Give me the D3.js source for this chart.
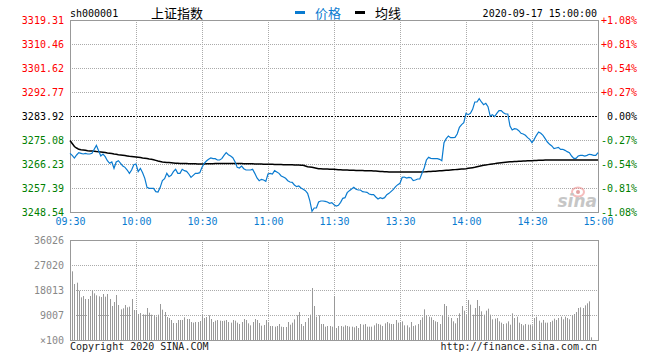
<!DOCTYPE html>
<html>
<head>
<meta charset="utf-8">
<script src="https://cdn.jsdelivr.net/npm/d3@7"></script>
<style>
  body { margin: 0; background: #fff; }
  svg { display: block; }
  text { font-family: "DejaVu Sans Mono", monospace; font-size: 10px; }
</style>
</head>
<body>
<script>
// values
var code = "sh000001";
var title = "上证指数";
var stamp = "2020-09-17 15:00:00";
var prevClose = 3283.92;
var priceTicks = [3319.31, 3310.46, 3301.62, 3292.77, 3283.92, 3275.08, 3266.23, 3257.39, 3248.54];
var pctTicks = ["+1.08%", "+0.81%", "+0.54%", "+0.27%", "0.00%", "-0.27%", "-0.54%", "-0.81%", "-1.08%"];
var timeTicks = [0, 30, 60, 90, 120, 150, 180, 210, 240];
var timeLabels = ["09:30", "10:00", "10:30", "11:00", "11:30", "13:30", "14:00", "14:30", "15:00"];
var volTicks = [36026, 27020, 18013, 9007];

var price = [
  3270.16, 3269.43, 3268.44, 3269.55, 3270.41, 3270.16, 3269.92, 3270.16, 3269.92, 3269.92,
  3270.16, 3271.64, 3273.11, 3271.15, 3269.18, 3269.92, 3268.94, 3267.46, 3266.48, 3266.97,
  3264.64, 3266.97, 3267.46, 3266.48, 3265.49, 3265.00, 3264.02, 3262.79, 3264.02, 3265.99,
  3266.23, 3263.41, 3264.64, 3263.04, 3260.95, 3257.63, 3257.26, 3257.26, 3257.26, 3256.03,
  3255.91, 3257.63, 3260.09, 3260.83, 3262.79, 3261.56, 3262.05, 3263.41, 3264.27, 3262.79,
  3262.79, 3264.27, 3263.77, 3263.53, 3262.55, 3261.32, 3262.05, 3262.79, 3262.79, 3263.04,
  3265.00, 3266.48, 3267.34, 3267.95, 3268.44, 3268.20, 3268.20, 3267.71, 3267.71, 3268.20,
  3269.43, 3270.41, 3269.67, 3269.18, 3268.57, 3267.09, 3265.00, 3264.76, 3265.49, 3264.51,
  3264.02, 3264.02, 3264.02, 3264.27, 3262.79, 3261.07, 3260.09, 3260.58, 3260.33, 3259.84,
  3262.55, 3262.79, 3262.55, 3263.77, 3263.28, 3262.79, 3261.81, 3261.44, 3260.95, 3260.09,
  3259.60, 3259.47, 3258.49, 3257.88, 3258.12, 3257.39, 3256.89, 3256.40, 3255.42, 3252.72,
  3248.79, 3250.01, 3250.01, 3252.23, 3252.59, 3252.59, 3252.47, 3252.23, 3251.73, 3251.98,
  3251.20, 3250.75, 3251.00, 3252.11, 3253.58, 3253.83, 3255.67, 3256.41, 3257.02, 3257.63,
  3256.90, 3256.65, 3256.65, 3256.04, 3255.91, 3255.79, 3255.18, 3254.93, 3254.93, 3254.07,
  3253.33, 3253.83, 3253.46, 3253.83, 3254.93, 3255.42, 3256.16, 3256.90, 3257.88, 3258.62,
  3259.11, 3261.32, 3261.44, 3261.07, 3261.32, 3261.19, 3260.09, 3260.34, 3260.71, 3260.71,
  3262.79, 3264.76, 3267.71, 3268.69, 3268.32, 3268.20, 3268.20, 3268.20, 3267.96, 3267.46,
  3274.10, 3275.57, 3276.56, 3275.94, 3275.94, 3276.06, 3277.29, 3279.75, 3280.73, 3281.47,
  3284.91, 3284.42, 3284.91, 3286.38, 3289.09, 3289.09, 3290.31, 3289.09, 3288.10, 3288.59,
  3287.37, 3283.92, 3284.42, 3283.68, 3284.91, 3285.89, 3285.89, 3285.15, 3284.66, 3284.66,
  3280.24, 3278.77, 3279.26, 3279.13, 3278.52, 3277.54, 3277.29, 3276.80, 3275.94, 3275.33,
  3274.10, 3275.33, 3276.80, 3278.03, 3277.54, 3276.80, 3275.57, 3274.34, 3273.48, 3272.87,
  3271.89, 3272.13, 3272.38, 3271.64, 3271.64, 3271.27, 3270.78, 3270.41, 3269.18, 3268.32,
  3268.32, 3269.18, 3269.43, 3269.43, 3269.18, 3269.43, 3269.80, 3269.67, 3269.43, 3269.43,
  3270.41
];

var avgPrice = [
  3274.89, 3273.79, 3272.68, 3272.13, 3271.65, 3271.47, 3271.39, 3271.28, 3271.13, 3271.06,
  3270.99, 3270.91, 3270.80, 3270.73, 3270.66, 3270.55, 3270.43, 3270.29, 3270.18, 3270.07,
  3269.92, 3269.81, 3269.66, 3269.55, 3269.44, 3269.33, 3269.22, 3269.11, 3269.03, 3268.92,
  3268.81, 3268.70, 3268.59, 3268.44, 3268.33, 3268.22, 3268.08, 3267.97, 3267.78, 3267.56,
  3267.34, 3267.15, 3266.97, 3266.90, 3266.82, 3266.75, 3266.68, 3266.60, 3266.53, 3266.49,
  3266.45, 3266.43, 3266.41, 3266.38, 3266.36, 3266.34, 3266.31, 3266.29, 3266.27, 3266.25,
  3266.23, 3266.25, 3266.28, 3266.31, 3266.34, 3266.36, 3266.38, 3266.40, 3266.41, 3266.42,
  3266.44, 3266.45, 3266.45, 3266.45, 3266.44, 3266.43, 3266.41, 3266.40, 3266.38, 3266.36,
  3266.34, 3266.32, 3266.30, 3266.28, 3266.26, 3266.24, 3266.22, 3266.20, 3266.18, 3266.16,
  3266.14, 3266.12, 3266.10, 3266.08, 3266.06, 3266.04, 3266.02, 3266.00, 3265.99, 3265.98,
  3265.97, 3265.93, 3265.90, 3265.86, 3265.82, 3265.78, 3265.75, 3265.50, 3265.24, 3265.13,
  3265.02, 3264.87, 3264.68, 3264.50, 3264.47, 3264.43, 3264.39, 3264.35, 3264.32, 3264.30,
  3264.28, 3264.21, 3264.13, 3264.08, 3264.02, 3264.00, 3263.98, 3263.95, 3263.93, 3263.91,
  3263.88, 3263.86, 3263.84, 3263.81, 3263.79, 3263.77, 3263.76, 3263.71, 3263.66, 3263.61,
  3263.56, 3263.51, 3263.46, 3263.41, 3263.36, 3263.32, 3263.28, 3263.28, 3263.28, 3263.28,
  3263.28, 3263.28, 3263.28, 3263.28, 3263.28, 3263.28, 3263.28, 3263.28, 3263.28, 3263.28,
  3263.28, 3263.33, 3263.39, 3263.44, 3263.49, 3263.54, 3263.60, 3263.65, 3263.71, 3263.77,
  3263.84, 3263.90, 3263.96, 3264.02, 3264.09, 3264.16, 3264.23, 3264.30, 3264.37, 3264.43,
  3264.50, 3264.63, 3264.76, 3264.89, 3265.02, 3265.20, 3265.38, 3265.56, 3265.75, 3265.87,
  3266.00, 3266.12, 3266.25, 3266.37, 3266.49, 3266.59, 3266.68, 3266.78, 3266.87, 3266.97,
  3267.02, 3267.07, 3267.13, 3267.18, 3267.23, 3267.29, 3267.34, 3267.37, 3267.41, 3267.44,
  3267.47, 3267.51, 3267.54, 3267.58, 3267.61, 3267.64, 3267.68, 3267.71, 3267.71, 3267.72,
  3267.72, 3267.72, 3267.73, 3267.73, 3267.73, 3267.74, 3267.74, 3267.74, 3267.74, 3267.75,
  3267.75, 3267.75, 3267.75, 3267.75, 3267.75, 3267.75, 3267.75, 3267.75, 3267.75, 3267.75,
  3267.75
];

// volume, in lots of 100
var volume = [
  36026, 24739, 20175, 20655, 17773, 15372, 15852, 14771, 14771, 15852,
  17893, 16813, 16092, 15732, 15492, 16572, 15612, 16572, 14771, 12249,
  13690, 16212, 12609, 11048, 11409, 12609, 11769, 12009, 14771, 10808,
  10808, 9367, 9727, 9247, 9127, 11529, 9847, 9127, 9007, 8406,
  9127, 12970, 10928, 10088, 8286, 7926, 7205, 6125, 6125, 7205,
  7205, 7205, 8166, 7566, 7566, 6485, 6245, 6485, 6485, 6845,
  9127, 7926, 8286, 8887, 7566, 6485, 6965, 7205, 6965, 6845,
  6965, 7205, 6485, 6245, 7205, 6965, 6245, 5764, 6485, 7566,
  7205, 6005, 5284, 6485, 7566, 7205, 6125, 5164, 5404, 7205,
  6245, 5044, 5044, 4804, 5044, 5764, 4804, 4684, 4684, 6485,
  5524, 6245, 7446, 8887, 10088, 5764, 5044, 6485, 7926, 9127,
  18734, 12249, 8406, 8887, 5764, 5764, 4804, 5044, 5044, 4804,
  15851, 4323, 5044, 5044, 4804, 5284, 5044, 4804, 4804, 4563,
  5044, 4323, 5764, 5524, 5764, 4804, 4804, 4804, 5284, 6005,
  5764, 5524, 5044, 6005, 6485, 6005, 5764, 5764, 7205, 6245,
  6485, 6725, 5284, 5284, 4563, 6485, 5044, 5284, 5764, 7205,
  8166, 11048, 8887, 8406, 8166, 7205, 6725, 6485, 5764, 8646,
  12970, 12249, 8406, 7926, 6725, 6005, 7926, 9607, 12249, 10568,
  9127, 14411, 12729, 9127, 11529, 14411, 12249, 10328, 9127, 10568,
  11288, 9127, 7446, 7686, 7926, 6725, 6245, 5764, 6005, 6725,
  5524, 9607, 7926, 8406, 6245, 5764, 5284, 5764, 5524, 5524,
  5284, 7926, 8406, 6965, 6245, 7205, 6245, 6245, 6485, 6965,
  7686, 7205, 7926, 8406, 7446, 8406, 7926, 7446, 8887, 9367,
  10088, 11529, 11769, 11529, 12489, 13210, 13930, 961, 0, 0,
  0
];

var svgWidth = 660, svgHeight = 360;
var plotLeft = 70, plotRight = 598, plotTop = 20, plotBottom = 212;
var volTop = 240, volBottom = 340;
var gridColor = "#aaa", borderColor = "#999";
var upColor = "#f00", downColor = "#008000", blue = "#0a7bd0";

var x = d3.scaleLinear().domain([0, 240]).range([plotLeft, plotRight]);
var y = d3.scaleLinear().domain([3248.54, 3319.31]).range([plotBottom, plotTop]);
var yv = d3.scaleLinear().domain([0, 36026]).range([volBottom, volTop]);

function tickColor(v) {
  if (Math.abs(v - prevClose) < 0.005) return "#000";
  return v > prevClose ? upColor : downColor;
}

var svg = d3.select("body").append("svg")
  .attr("width", svgWidth)
  .attr("height", svgHeight);

svg.append("rect").attr("width", svgWidth).attr("height", svgHeight).attr("fill", "#fff");

//=========//
// Header  //
//=========//
svg.append("text").attr("x", plotLeft).attr("y", 13).attr("dy", "0.35em").text(code);
svg.append("text").attr("x", 151).attr("y", 13).attr("dy", "0.36em")
  .style("font-family", "'Noto Sans CJK SC'").style("font-size", "13px").text(title);

var legend = [{ label: "价格", color: blue, x: 295 }, { label: "均线", color: "#000", x: 355 }];
legend.forEach(function(d) {
  svg.append("rect").attr("x", d.x).attr("y", 11).attr("width", 10).attr("height", 3).attr("fill", d.color);
  svg.append("text").attr("x", d.x + 20).attr("y", 13).attr("dy", "0.36em")
    .style("font-family", "'Noto Sans CJK SC'").style("font-size", "13px")
    .attr("fill", d.color).text(d.label);
});
svg.append("text").attr("x", plotRight - 1).attr("y", 13).attr("dy", "0.35em")
  .attr("text-anchor", "end").text(stamp);

//===============//
// Price panel   //
//===============//
var grid = svg.append("g");
grid.selectAll(".hg")
  .data(priceTicks.filter(function(d, i) { return i > 0 && i < priceTicks.length - 1; }))
  .enter().append("line")
  .attr("x1", plotLeft).attr("x2", plotRight)
  .attr("y1", function(d) { return Math.round(y(d)) + 0.5; })
  .attr("y2", function(d) { return Math.round(y(d)) + 0.5; })
  .attr("stroke", function(d) { return d === prevClose ? "#000" : gridColor; })
  .attr("stroke-dasharray", function(d) { return d === prevClose ? "2,1" : "1,1"; });

grid.selectAll(".vg")
  .data(timeTicks.slice(1, -1))
  .enter().append("line")
  .attr("x1", function(d) { return Math.round(x(d)) + 0.5; })
  .attr("x2", function(d) { return Math.round(x(d)) + 0.5; })
  .attr("y1", plotTop).attr("y2", plotBottom)
  .attr("stroke", gridColor).attr("stroke-dasharray", "1,1");

// sina watermark
var mark = svg.append("g").attr("opacity", 0.55);
mark.append("ellipse").attr("cx", 578).attr("cy", 192).attr("rx", 6).attr("ry", 4.5)
  .attr("fill", "none").attr("stroke", "#e88").attr("stroke-width", 2);
mark.append("circle").attr("cx", 578).attr("cy", 192).attr("r", 2).attr("fill", "#c55");
mark.append("text").attr("x", 597).attr("y", 207).attr("text-anchor", "end")
  .style("font-family", "'DejaVu Sans'").style("font-size", "17px")
  .style("font-weight", "bold").style("font-style", "italic")
  .attr("fill", "#999").text("sina");

svg.append("rect")
  .attr("x", plotLeft + 0.5).attr("y", plotTop + 0.5)
  .attr("width", plotRight - plotLeft).attr("height", plotBottom - plotTop)
  .attr("fill", "none").attr("stroke", borderColor);

var minuteLine = d3.line()
  .x(function(d, i) { return x(i); })
  .y(function(d) { return y(d); });

svg.append("path").datum(avgPrice)
  .attr("d", minuteLine).attr("fill", "none")
  .attr("stroke", "#000").attr("stroke-width", 1.5);

svg.append("path").datum(price)
  .attr("d", minuteLine).attr("fill", "none")
  .attr("stroke", blue).attr("stroke-width", 1.2);

// left price axis
var yAxis = svg.append("g").attr("transform", "translate(" + plotLeft + ",0)")
  .call(d3.axisLeft(y).tickValues(priceTicks).tickFormat(d3.format(".2f")).tickSize(0).tickPadding(6));
yAxis.select(".domain").remove();
yAxis.selectAll("text").attr("fill", function(d) { return tickColor(d); })
  .style("font-family", "'DejaVu Sans Mono'").style("font-size", "10px");

// right percent axis
var pAxis = svg.append("g").attr("transform", "translate(" + plotRight + ",0)")
  .call(d3.axisRight(y).tickValues(priceTicks)
    .tickFormat(function(d, i) { return pctTicks[i]; }).tickSize(0).tickPadding(39));
pAxis.select(".domain").remove();
pAxis.selectAll("text").attr("text-anchor", "end")
  .attr("fill", function(d) { return tickColor(d); })
  .style("font-family", "'DejaVu Sans Mono'").style("font-size", "10px");

// time axis
var xAxis = svg.append("g").attr("transform", "translate(0," + plotBottom + ")")
  .call(d3.axisBottom(x).tickValues(timeTicks)
    .tickFormat(function(d, i) { return timeLabels[i]; }).tickSize(0).tickPadding(6));
xAxis.select(".domain").remove();
xAxis.selectAll("text").attr("fill", blue)
  .style("font-family", "'DejaVu Sans Mono'").style("font-size", "10px");

//===============//
// Volume panel  //
//===============//
svg.append("g").selectAll("line")
  .data(volTicks.slice(1))
  .enter().append("line")
  .attr("x1", plotLeft).attr("x2", plotRight)
  .attr("y1", function(d) { return Math.round(yv(d)) + 0.5; })
  .attr("y2", function(d) { return Math.round(yv(d)) + 0.5; })
  .attr("stroke", gridColor).attr("stroke-dasharray", "1,1");

svg.append("g").selectAll("line")
  .data(timeTicks.slice(1, -1))
  .enter().append("line")
  .attr("x1", function(d) { return Math.round(x(d)) + 0.5; })
  .attr("x2", function(d) { return Math.round(x(d)) + 0.5; })
  .attr("y1", volTop).attr("y2", volBottom)
  .attr("stroke", gridColor).attr("stroke-dasharray", "1,1");

svg.append("g").selectAll("rect")
  .data(volume)
  .enter().append("rect")
  .attr("x", function(d, i) { return Math.round(x(i)); })
  .attr("y", function(d) { return yv(d); })
  .attr("width", 1)
  .attr("height", function(d) { return volBottom - yv(d); })
  .attr("fill", "#999");

svg.append("rect")
  .attr("x", plotLeft + 0.5).attr("y", volTop + 0.5)
  .attr("width", plotRight - plotLeft).attr("height", volBottom - volTop)
  .attr("fill", "none").attr("stroke", borderColor);

var vAxis = svg.append("g").attr("transform", "translate(" + plotLeft + ",0)")
  .call(d3.axisLeft(yv).tickValues(volTicks.concat([0]))
    .tickFormat(function(d) { return d === 0 ? "×100" : d; }).tickSize(0).tickPadding(6));
vAxis.select(".domain").remove();
vAxis.selectAll("text").attr("fill", "#888")
  .style("font-family", "'DejaVu Sans Mono'").style("font-size", "10px");

svg.append("text").attr("x", plotLeft).attr("y", 346).attr("dy", "0.35em")
  .attr("fill", "#222").text("Copyright 2020 SINA.COM");
svg.append("text").attr("x", plotRight - 1).attr("y", 346).attr("dy", "0.35em")
  .attr("text-anchor", "end").attr("fill", "#222").text("http://finance.sina.com.cn");
</script>
</body>
</html>
